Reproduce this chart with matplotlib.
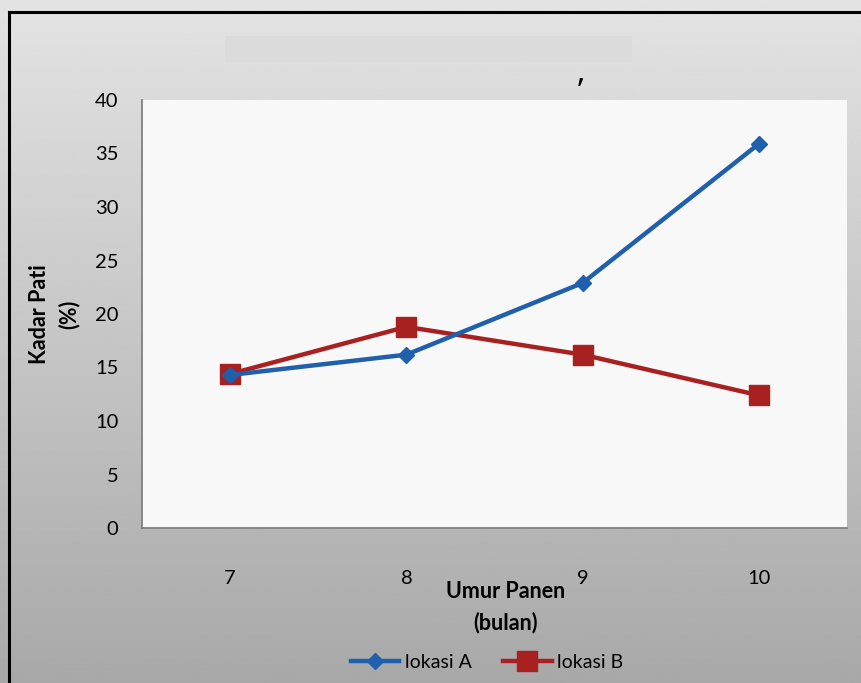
"""Kadar pati vs umur panen for two locations."""

import matplotlib
matplotlib.use("Agg")
import matplotlib.pyplot as plt
import numpy as np
from matplotlib.lines import Line2D
from matplotlib.patches import Rectangle

plt.rcParams["font.family"] = ["Lato", "DejaVu Sans"]

umur_panen = [7, 8, 9, 10]
lokasi_a = [14.3, 16.2, 22.9, 35.9]
lokasi_b = [14.4, 18.8, 16.2, 12.4]
y_ticks = [0, 5, 10, 15, 20, 25, 30, 35, 40]

BLUE = "#1f5fab"
RED = "#a82020"


def main() -> None:
    fig = plt.figure(figsize=(8.61, 6.83), dpi=100)

    # gray gradient backdrop
    bg = fig.add_axes([0, 0, 1, 1], zorder=0)
    grad = np.linspace(0.89, 0.66, 256).reshape(-1, 1)
    bg.imshow(grad, cmap="gray", vmin=0, vmax=1, aspect="auto",
              extent=[0, 1, 0, 1], origin="upper")
    bg.add_patch(Rectangle((225 / 861, 1 - 62 / 683), 407 / 861, 26 / 683,
                           color="#dbdbdb", lw=0))
    bg.set_xlim(0, 1)
    bg.set_ylim(0, 1)
    bg.axis("off")

    # black frame on top and left edge
    fig.add_artist(Line2D([9 / 861, 1], [1 - 11.5 / 683, 1 - 11.5 / 683],
                          color="black", lw=2.2))
    fig.add_artist(Line2D([9 / 861, 9 / 861], [0, 1 - 11.5 / 683],
                          color="black", lw=2.2))
    fig.text(580 / 861, 1 - 90 / 683, "′", fontsize=18, fontweight="bold",
             ha="center", va="center")

    ax = fig.add_axes([142 / 861, 155 / 683, 705 / 861, 428 / 683], zorder=1)
    ax.set_facecolor("#f8f8f8")

    ax.plot(umur_panen, lokasi_a, color=BLUE, lw=3.2, marker="D",
            markersize=8.5, label="lokasi A", zorder=3)
    ax.plot(umur_panen, lokasi_b, color=RED, lw=3.2, marker="s",
            markersize=14, label="lokasi B", zorder=2)

    ax.set_xlim(6.5, 10.5)
    ax.set_ylim(0, 40)
    ax.set_yticks(y_ticks)
    ax.set_xticks(umur_panen)
    ax.tick_params(axis="both", length=0, labelsize=14.5)
    ax.tick_params(axis="x", pad=30)
    ax.tick_params(axis="y", pad=17)

    for side in ("top", "right"):
        ax.spines[side].set_visible(False)
    for side in ("left", "bottom"):
        ax.spines[side].set_color("#808080")
        ax.spines[side].set_linewidth(1.3)

    fig.text(506 / 861, 1 - 607 / 683, "Umur Panen\n(bulan)", ha="center",
             va="center", fontsize=15.5, fontweight="bold", linespacing=1.55)
    fig.text(54 / 861, 1 - 314 / 683, "Kadar Pati\n(%)", ha="center",
             va="center", rotation=90, fontsize=15.5, fontweight="bold",
             linespacing=1.45)

    handles = [
        Line2D([], [], color=BLUE, lw=3.2, marker="D", markersize=8.5),
        Line2D([], [], color=RED, lw=3.2, marker="s", markersize=14),
    ]
    fig.legend(handles, ["lokasi A", "lokasi B"], ncol=2, frameon=False,
               loc="center", bbox_to_anchor=(487 / 861, 21 / 683),
               fontsize=14, handlelength=2.5, handletextpad=0.3,
               columnspacing=1.6)

    fig.savefig("out.png", dpi=100)
    plt.close(fig)


if __name__ == "__main__":
    main()
